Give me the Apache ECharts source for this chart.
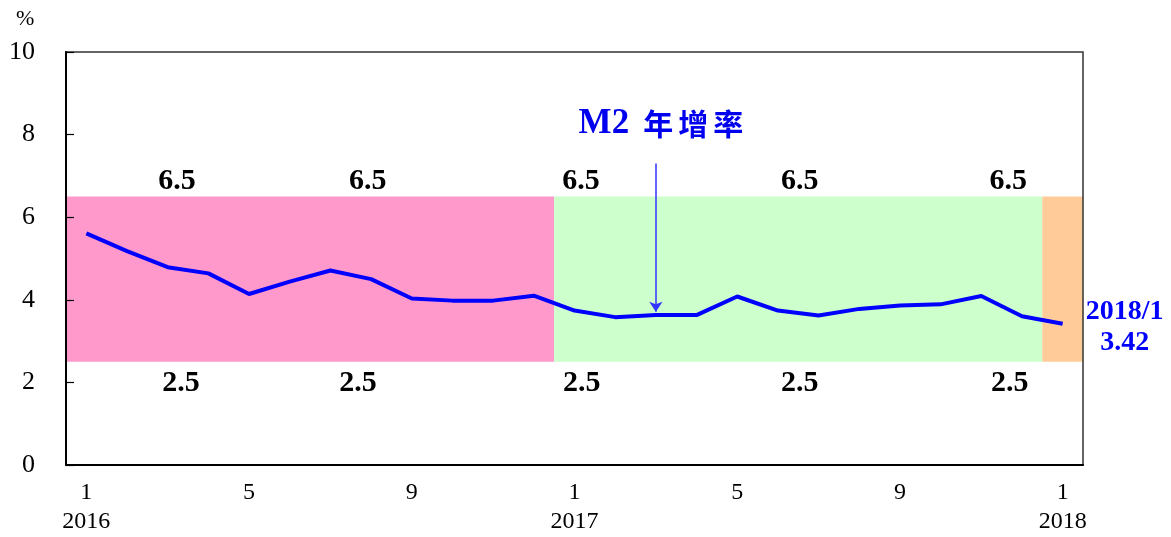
<!DOCTYPE html>
<html>
<head>
<meta charset="utf-8">
<script src="https://cdn.jsdelivr.net/npm/echarts@6/dist/echarts.min.js"></script>
<style>
  html, body { margin: 0; padding: 0; background: #fff; }
  #chart { width: 1171px; height: 537px; }
</style>
</head>
<body>
<div id="chart"></div>
<script>
// Monthly categories, Jan 2016 – Jan 2018
const months = [
  '2016/1', '2016/2', '2016/3', '2016/4', '2016/5', '2016/6',
  '2016/7', '2016/8', '2016/9', '2016/10', '2016/11', '2016/12',
  '2017/1', '2017/2', '2017/3', '2017/4', '2017/5', '2017/6',
  '2017/7', '2017/8', '2017/9', '2017/10', '2017/11', '2017/12',
  '2018/1'
];

// M2 annual growth rate (%)
const m2Growth = [
  5.61, 5.18, 4.79, 4.64, 4.14, 4.44,
  4.71, 4.50, 4.03, 3.98, 3.98, 4.10,
  3.74, 3.58, 3.63, 3.63, 4.08, 3.74,
  3.62, 3.78, 3.86, 3.89, 4.09, 3.60,
  3.42
];

// Target range of M2 growth for each year (%)
const targetUpper = 6.5;
const targetLower = 2.5;
const targetYears = ['2016', '2017', '2018'];

// Y axis ticks
const yTicks = [0, 2, 4, 6, 8, 10];

// Series title and the month it points at
const seriesTitle = 'M2 年增率';
const arrowMonth = '2017/3';

// --- layout and style ---
const SERIF = '"Liberation Serif", "Times New Roman", serif';
const bandColors = { '2016': '#FF99CC', '2017': '#CCFFCC', '2018': '#FFCC99' };
// where the range bound labels sit, in month units along the axis
const upperLabelAt = [2.73, 7.42, 12.66, 18.04, 23.16];
const lowerLabelAt = [2.83, 7.18, 12.68, 18.04, 23.20];

// span of each year in month-index units
const yearSpans = targetYears.map(y => {
  const idx = months.map((m, i) => m.startsWith(y + '/') ? i : -1).filter(i => i >= 0);
  return { year: y, from: idx[0], to: idx[idx.length - 1] + 1 };
});

const bandAreas = yearSpans.map(s => [
  { xAxis: s.from, yAxis: targetLower, itemStyle: { color: bandColors[s.year] } },
  { xAxis: s.to, yAxis: targetUpper }
]);

const boundLabel = (pos, dist) => ({
  show: true,
  position: pos,
  distance: dist,
  formatter: p => p.value[1].toFixed(1),
  fontFamily: SERIF,
  fontWeight: 'bold',
  fontSize: 30,
  color: '#000'
});

const boundPoints = upperLabelAt.map(x => ({ value: [x, targetUpper], label: boundLabel('top', 0) }))
  .concat(lowerLabelAt.map(x => ({ value: [x, targetLower], label: boundLabel('bottom', 6) })));

// title as rich text: latin part in serif, CJK characters spaced apart
const [titleLatin, titleCjk] = seriesTitle.split(' ');
const titleRich = '{a|' + titleLatin + '}{sp|}' +
  titleCjk.split('').map(c => '{b|' + c + '}').join('{gap|}');

const arrowIdx = months.indexOf(arrowMonth);
const lastIdx = months.length - 1;

const chart = echarts.init(document.getElementById('chart'));
chart.setOption({
  animation: false,
  backgroundColor: '#fff',
  title: {
    text: '%',
    left: 16,
    top: 8,
    padding: 0,
    textStyle: { fontFamily: SERIF, fontWeight: 'normal', fontSize: 22, color: '#000' }
  },
  grid: {
    left: 66, right: 88, top: 52, bottom: 72,
    show: true, borderColor: '#333', borderWidth: 1.5, z: 5
  },
  xAxis: [
    {
      type: 'category',
      data: months,
      boundaryGap: true,
      z: 6,
      axisLine: { lineStyle: { color: '#000', width: 2 } },
      axisTick: { inside: true, length: 8, interval: 0, lineStyle: { color: '#000', width: 1.2 } },
      axisLabel: {
        interval: 3,
        margin: 13,
        lineHeight: 29,
        fontFamily: SERIF,
        fontSize: 24,
        color: '#000',
        formatter: v => {
          const [y, m] = v.split('/');
          return m === '1' ? m + '\n' + y : m;
        }
      },
      splitLine: { show: false }
    },
    {
      type: 'value',
      min: 0,
      max: months.length,
      show: false
    }
  ],
  yAxis: {
    type: 'value',
    min: yTicks[0],
    max: yTicks[yTicks.length - 1],
    interval: yTicks[1] - yTicks[0],
    z: 6,
    axisLine: { show: true, lineStyle: { color: '#000', width: 2 } },
    axisTick: { show: true, inside: true, length: 8, lineStyle: { color: '#000', width: 1.2 } },
    axisLabel: { margin: 31, fontFamily: SERIF, fontSize: 26, color: '#000' },
    splitLine: { show: false }
  },
  series: [
    {
      name: 'target',
      type: 'scatter',
      xAxisIndex: 1,
      yAxisIndex: 0,
      z: 1,
      silent: true,
      symbolSize: 0,
      itemStyle: { opacity: 1 },
      data: boundPoints,
      markArea: {
        silent: true,
        z: 1,
        data: bandAreas
      }
    },
    {
      name: seriesTitle,
      type: 'line',
      xAxisIndex: 0,
      yAxisIndex: 0,
      z: 4,
      silent: true,
      symbol: 'none',
      data: m2Growth,
      lineStyle: { color: '#0000FF', width: 4 },
      markLine: {
        silent: true,
        symbol: ['none', 'arrow'],
        symbolSize: 10,
        lineStyle: { color: '#3333FF', width: 1.5, type: 'solid' },
        label: {
          show: true,
          position: 'start',
          distance: 22,
          offset: [5, 0],
          formatter: () => titleRich,
          rich: {
            a: { fontFamily: SERIF, fontWeight: 'bold', fontSize: 35, color: '#0000EE' },
            sp: { width: 14 },
            gap: { width: 5 },
            b: { fontFamily: '"Noto Sans CJK TC", sans-serif', fontWeight: 'bold', fontSize: 30, color: '#0000EE' }
          }
        },
        data: [[
          { coord: [arrowMonth, 7.3] },
          { coord: [arrowMonth, m2Growth[arrowIdx] + 0.08] }
        ]]
      },
      markPoint: {
        silent: true,
        symbol: 'circle',
        symbolSize: 1,
        itemStyle: { color: 'rgba(0,0,0,0)' },
        label: {
          show: true,
          position: 'inside',
          offset: [62, 4],
          align: 'center',
          lineHeight: 31,
          fontFamily: SERIF,
          fontWeight: 'bold',
          fontSize: 28,
          color: '#0000FF',
          formatter: () => months[lastIdx] + '\n' + m2Growth[lastIdx].toFixed(2)
        },
        data: [{ coord: [months[lastIdx], m2Growth[lastIdx]] }]
      }
    }
  ]
});
</script>
</body>
</html>
